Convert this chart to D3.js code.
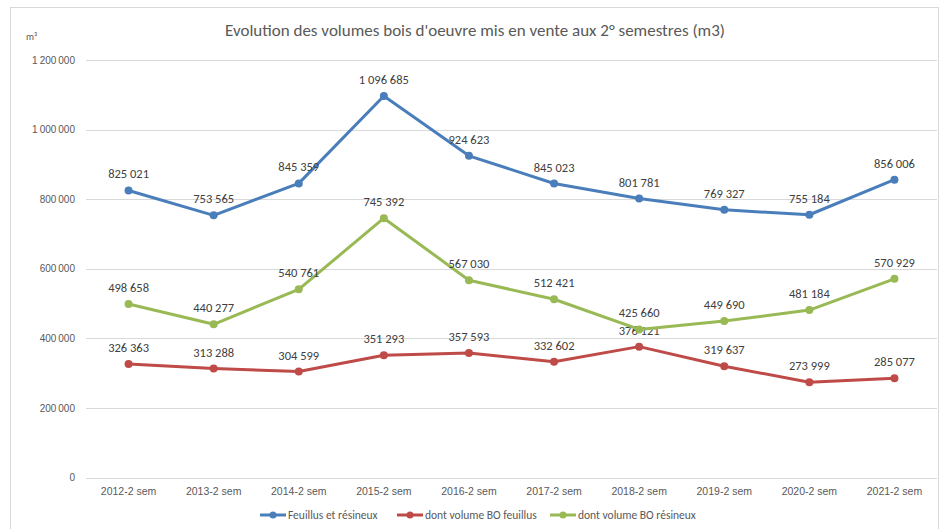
<!DOCTYPE html>
<html>
<head>
<meta charset="utf-8">
<script src="https://cdn.jsdelivr.net/npm/d3@7"></script>
<style>
  body { margin: 0; background: #fff; }
  svg { font-family: Carlito, Lato, "Open Sans", sans-serif; }
</style>
</head>
<body>
<svg width="943" height="529"></svg>
<script>
var categories = ["2012-2 sem", "2013-2 sem", "2014-2 sem", "2015-2 sem", "2016-2 sem",
                  "2017-2 sem", "2018-2 sem", "2019-2 sem", "2020-2 sem", "2021-2 sem"];
var totalValues = [825021, 753565, 845359, 1096685, 924623, 845023, 801781, 769327, 755184, 856006];
var feuillusValues = [326363, 313288, 304599, 351293, 357593, 332602, 376121, 319637, 273999, 285077];
var resineuxValues = [498658, 440277, 540761, 745392, 567030, 512421, 425660, 449690, 481184, 570929];
var yTicks = [0, 200000, 400000, 600000, 800000, 1000000, 1200000];

var series = [
  {name: "Feuillus et résineux", values: totalValues, color: "#4a7ebb"},
  {name: "dont volume BO feuillus", values: feuillusValues, color: "#be4b48"},
  {name: "dont volume BO résineux", values: resineuxValues, color: "#98b954"}
];

var fmt = function(v) { return d3.format(",")(v).replace(/,/g, "\u202f"); };

var svg = d3.select("svg");

// cadre
svg.append("rect").attr("x", 10.5).attr("y", 7.5).attr("width", 928).attr("height", 530)
  .attr("fill", "#fff").attr("stroke", "#d9d9d9");

var pLeft = 86, pRight = 937, pTop = 60, pBottom = 477.5;
var x = d3.scaleBand().domain(categories).range([pLeft, pRight]);
var y = d3.scaleLinear().domain([0, 1200000]).range([pBottom, pTop]);

// grille
svg.append("g").selectAll("line").data(yTicks).enter().append("line")
  .attr("x1", pLeft).attr("x2", pRight)
  .attr("y1", function(d) { return Math.round(y(d)) + 0.5; })
  .attr("y2", function(d) { return Math.round(y(d)) + 0.5; })
  .attr("stroke", "#d9d9d9").attr("stroke-width", 1);

var yAxis = svg.append("g").attr("transform", "translate(" + (pLeft - 8) + ",0)")
  .call(d3.axisLeft(y).tickValues(yTicks).tickSize(0).tickFormat(fmt));
yAxis.select(".domain").remove();
yAxis.selectAll("text").attr("fill", "#595959").style("font-size", "10px");

var xAxis = svg.append("g").attr("transform", "translate(0," + (pBottom + 7) + ")")
  .call(d3.axisBottom(x).tickSize(0));
xAxis.select(".domain").remove();
xAxis.selectAll("text").attr("fill", "#595959").style("font-size", "10.5px");

svg.append("text").attr("x", 26).attr("y", 40).text("m³")
  .attr("fill", "#595959").style("font-size", "10px");

svg.append("text").attr("x", 475).attr("y", 36).attr("text-anchor", "middle")
  .text("Evolution des volumes bois d'oeuvre mis en vente aux 2° semestres (m3)")
  .attr("fill", "#595959").style("font-size", "17px");

var line = d3.line()
  .x(function(d, i) { return x(categories[i]) + x.bandwidth() / 2; })
  .y(function(d) { return y(d); });

series.forEach(function(s) {
  var g = svg.append("g");
  g.append("path").datum(s.values).attr("d", line)
    .attr("fill", "none").attr("stroke", s.color).attr("stroke-width", 3)
    .attr("stroke-linejoin", "round");
  g.selectAll("circle").data(s.values).enter().append("circle")
    .attr("cx", function(d, i) { return x(categories[i]) + x.bandwidth() / 2; })
    .attr("cy", function(d) { return y(d); })
    .attr("r", 4).attr("fill", s.color);
  g.selectAll("text").data(s.values).enter().append("text")
    .attr("x", function(d, i) { return x(categories[i]) + x.bandwidth() / 2; })
    .attr("y", function(d) { return y(d) - 12; })
    .attr("text-anchor", "middle")
    .attr("fill", "#404040").style("font-size", "12.5px")
    .text(fmt);
});

// légende
var legendX = [260, 397, 550];
series.forEach(function(s, i) {
  var lg = svg.append("g").attr("transform", "translate(" + legendX[i] + ",515)");
  lg.append("line").attr("x1", 0).attr("x2", 26).attr("stroke", s.color).attr("stroke-width", 3);
  lg.append("circle").attr("cx", 13).attr("r", 3.5).attr("fill", s.color);
  lg.append("text").attr("x", 28).attr("y", 4).text(s.name)
    .attr("fill", "#595959").style("font-size", "11.5px");
});
</script>
</body>
</html>
